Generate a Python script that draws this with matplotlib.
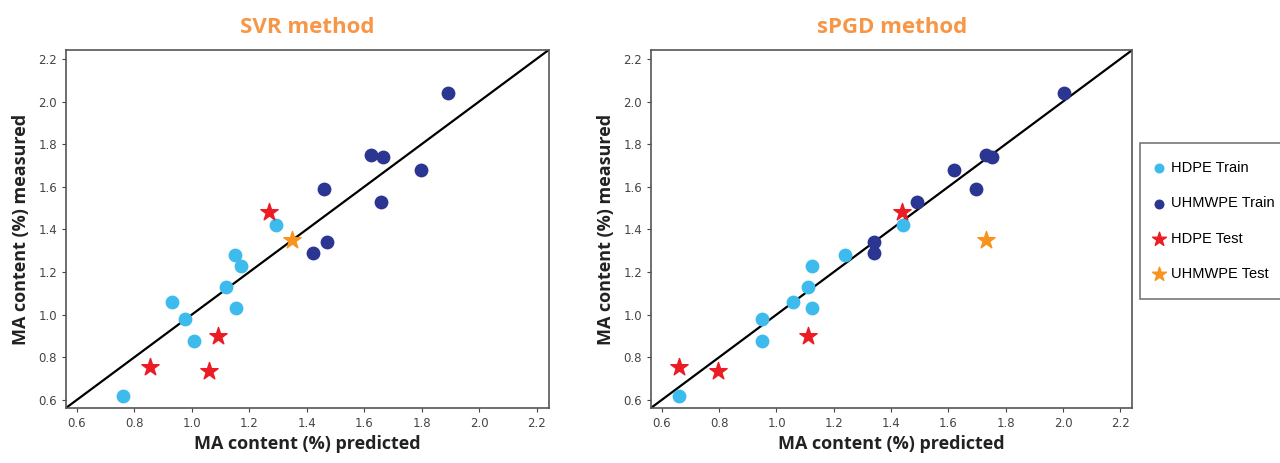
import numpy as np
import matplotlib
matplotlib.use('Agg')
import matplotlib.pyplot as plt

# valores medidos (comunes a ambos metodos)
hdpe_train_med = [0.62, 1.06, 0.98, 0.875, 1.13, 1.03, 1.28, 1.23, 1.42]
uhmwpe_train_med = [2.04, 1.75, 1.74, 1.68, 1.59, 1.53, 1.34, 1.29]
hdpe_test_med = [1.48, 0.90, 0.755, 0.735]
uhmwpe_test_med = [1.35]

# predicciones SVR
svr_hdpe_train = [0.76, 0.93, 0.975, 1.007, 1.118, 1.154, 1.15, 1.17, 1.294]
svr_uhmwpe_train = [1.892, 1.622, 1.666, 1.799, 1.461, 1.659, 1.47, 1.421]
svr_hdpe_test = [1.267, 1.09, 0.855, 1.061]
svr_uhmwpe_test = [1.349]

# predicciones sPGD
spgd_hdpe_train = [0.66, 1.059, 0.951, 0.951, 1.111, 1.125, 1.239, 1.125, 1.44]
spgd_uhmwpe_train = [2.005, 1.732, 1.753, 1.618, 1.696, 1.489, 1.341, 1.341]
spgd_hdpe_test = [1.438, 1.11, 0.66, 0.795]
spgd_uhmwpe_test = [1.732]

ticks = [0.6, 0.8, 1.0, 1.2, 1.4, 1.6, 1.8, 2.0, 2.2]
lim = (0.562, 2.242)

col_hdpe = '#3DBBEC'
col_uhmwpe = '#2B3592'
col_rojo = '#EC1C24'
col_naranja = '#F7941D'
col_titulo = '#F79646'


def dibujar(ax, titulo, pred):
    hx, ux, htx, utx = pred
    ax.plot(lim, lim, color='black', lw=1.6, zorder=1)
    ax.scatter(hx, hdpe_train_med, s=80, color=col_hdpe, label='HDPE Train', zorder=3)
    ax.scatter(ux, uhmwpe_train_med, s=80, color=col_uhmwpe, label='UHMWPE Train', zorder=3)
    ax.scatter(htx, hdpe_test_med, s=170, marker='*', color=col_rojo, label='HDPE Test', zorder=4)
    ax.scatter(utx, uhmwpe_test_med, s=170, marker='*', color=col_naranja, label='UHMWPE Test', zorder=4)
    ax.set_xlim(lim)
    ax.set_ylim(lim)
    ax.set_xticks(ticks)
    ax.set_yticks(ticks)
    ax.set_xticklabels([f'{t:.1f}' for t in ticks])
    ax.set_yticklabels([f'{t:.1f}' for t in ticks])
    ax.tick_params(labelsize=8.5, colors='#444444', length=3)
    for s in ax.spines.values():
        s.set_color('#555555')
        s.set_linewidth(1.2)
    ax.set_xlabel('MA content (%) predicted', fontsize=13, fontweight='bold',
                  fontname='Open Sans', color='#222222', labelpad=4)
    ax.set_ylabel('MA content (%) measured', fontsize=13, fontweight='bold',
                  fontname='Open Sans', color='#222222', labelpad=6)
    ax.set_title(titulo, fontsize=16, fontweight='bold', fontname='Open Sans',
                 color=col_titulo, pad=12)


fig = plt.figure(figsize=(12.8, 4.63), dpi=100)
ax1 = fig.add_axes([0.0516, 0.119, 0.377, 0.773])
ax2 = fig.add_axes([0.5086, 0.119, 0.376, 0.773])

dibujar(ax1, 'SVR method', (svr_hdpe_train, svr_uhmwpe_train, svr_hdpe_test, svr_uhmwpe_test))
dibujar(ax2, 'sPGD method', (spgd_hdpe_train, spgd_uhmwpe_train, spgd_hdpe_test, spgd_uhmwpe_test))

h, l = ax2.get_legend_handles_labels()
leg = fig.legend(h, l, loc='upper left', bbox_to_anchor=(0.891, 0.691),
                 prop={'family': 'Liberation Sans', 'size': 10.5},
                 labelspacing=1.45, handletextpad=0.75, handlelength=0.1,
                 borderpad=1.25, fancybox=False, framealpha=1, borderaxespad=0)
leg.get_frame().set_edgecolor('#777777')
leg.get_frame().set_linewidth(1.2)
for hd in leg.legend_handles:
    hd.set_sizes([38] if hd.get_paths()[0].vertices.shape[0] > 20 else [110])

fig.savefig('out.png', dpi=100)
